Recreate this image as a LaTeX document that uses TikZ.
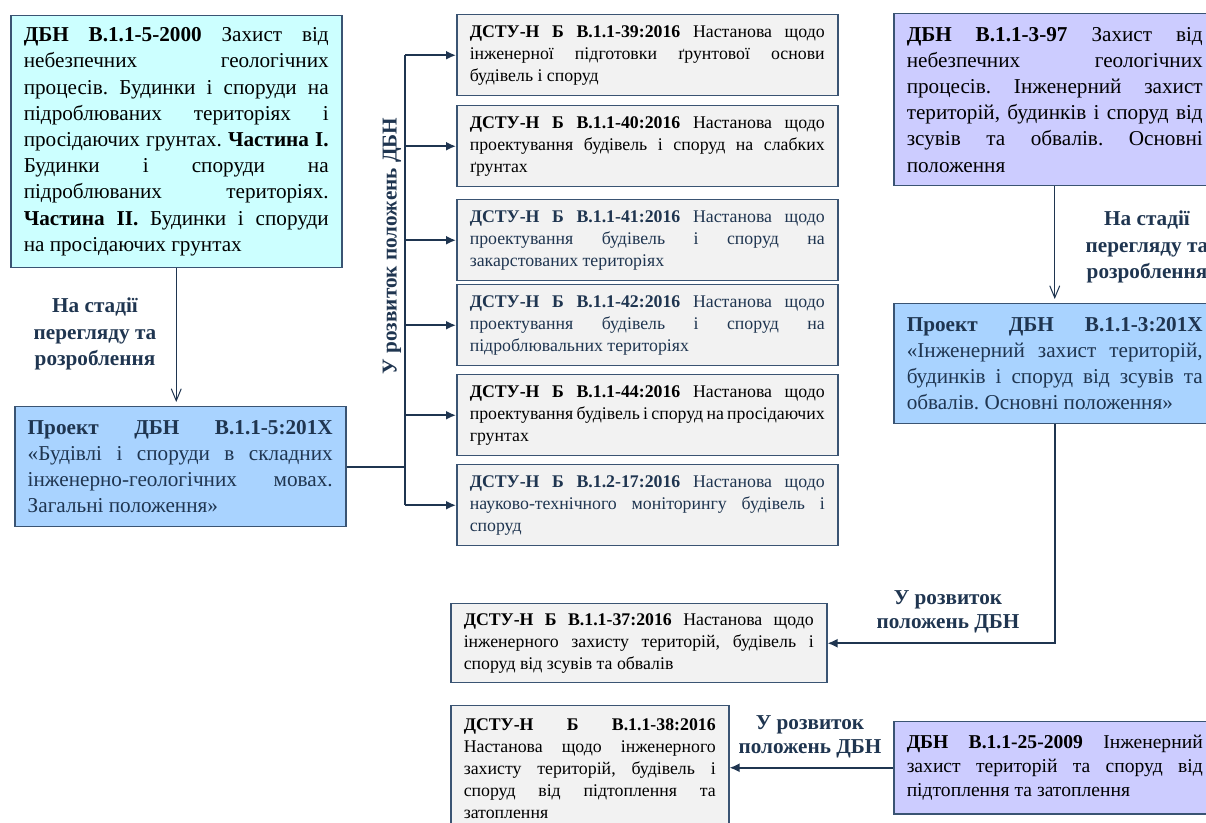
\documentclass[tikz,border=0pt]{standalone}
\usepackage{fontspec}
\setmainfont{Liberation Serif}
\usetikzlibrary{arrows.meta}

\definecolor{framecol}{HTML}{3A5473}
\definecolor{navy}{HTML}{1F3550}
\definecolor{fillcyan}{HTML}{CCFFFF}
\definecolor{fillblue}{HTML}{A9D3FF}
\definecolor{filllav}{HTML}{CCCCFF}
\definecolor{fillgray}{HTML}{F2F2F2}

% word-like lines: breaks are set by hand
\newcommand{\wordlines}{\frenchspacing\tolerance=10000\hyphenpenalty=10000\spaceskip=.25em plus .6em minus .1em\relax}
\newcommand{\sizeMain}{\fontsize{10.6}{13.1}\selectfont\wordlines}
\newcommand{\sizeDstu}{\fontsize{8.9}{11}\selectfont\wordlines}
\newcommand{\sizeNote}{\fontsize{10.6}{12}\selectfont}

\tikzstyle{block} = [rectangle, draw=framecol, line width=0.75pt,
		align=justify, anchor=north west, inner xsep=6.5pt, inner ysep=3pt]
\tikzstyle{dbn} = [block, font=\sizeMain, text width=152.5pt]
\tikzstyle{dstu} = [block, fill=fillgray, font=\sizeDstu, text width=177.5pt, minimum height=40.5pt]
\tikzstyle{stage} = [font=\sizeMain\bfseries, text=navy, align=center]
\tikzstyle{branch} = [draw=navy, line width=0.9pt, -{Latex[length=5pt,width=4.5pt]}]
\tikzstyle{review} = [draw=navy, line width=0.5pt, shorten >=2pt, -{Straight Barb[length=6pt,width=5pt]}]

\begin{document}
\begin{tikzpicture}[x=0.5pt, y=-0.5pt]
		\clip (0,0) rectangle (1206,823);
		%left column
		\node [dbn, fill=fillcyan, minimum height=126pt] (Dbn5) at (10,15) {\textbf{ДБН В.1.1-5-2000} Захист від\linebreak небезпечних геологічних\linebreak процесів. Будинки і споруди на\linebreak підроблюваних територіях і\linebreak просідаючих грунтах. \textbf{Частина I.}\linebreak Будинки і споруди на\linebreak підроблюваних територіях.\linebreak \textbf{Частина II.} Будинки і споруди\linebreak на просідаючих грунтах};
		\node [dbn, fill=fillblue, text=navy, minimum height=60pt] (Proj5) at (14,406) {\textbf{Проект ДБН В.1.1-5:201Х}\linebreak «Будівлі і споруди в складних\linebreak інженерно-геологічних мовах.\linebreak Загальні положення»};
		\node [stage] (lab1) at (95,334) {На стадії\\перегляду та\\розроблення};
		
		%DSTU column
		\node [dstu] (Dstu39) at (456,14) {\textbf{ДСТУ-Н Б В.1.1-39:2016} Настанова щодо\linebreak інженерної підготовки ґрунтової основи\linebreak будівель і споруд};
		\node [dstu] (Dstu40) at (456,105) {\textbf{ДСТУ-Н Б В.1.1-40:2016} Настанова щодо\linebreak проектування будівель і споруд на слабких\linebreak ґрунтах};
		\node [dstu, text=navy] (Dstu41) at (456,199) {\textbf{ДСТУ-Н Б В.1.1-41:2016} Настанова щодо\linebreak проектування будівель і споруд на\linebreak закарстованих територіях};
		\node [dstu, text=navy] (Dstu42) at (456,284) {\textbf{ДСТУ-Н Б В.1.1-42:2016} Настанова щодо\linebreak проектування будівель і споруд на\linebreak підроблювальних територіях};
		\node [dstu] (Dstu44) at (456,374) {\textbf{ДСТУ-Н Б В.1.1-44:2016} Настанова щодо\linebreak проектування будівель і споруд на просідаючих\linebreak грунтах};
		\node [dstu, text=navy] (Dstu17) at (456,464) {\textbf{ДСТУ-Н Б В.1.2-17:2016} Настанова щодо\linebreak науково-технічного моніторингу будівель і\linebreak споруд};
		\coordinate (trunk) at (405,0);
		\node [stage, rotate=90] (lab2) at (392,246) {У розвиток положень ДБН};
		
		%right column
		\node [dbn, fill=filllav, text width=148pt, minimum height=86pt] (Dbn3) at (893,13) {\textbf{ДБН В.1.1-3-97} Захист від\linebreak небезпечних геологічних\linebreak процесів. Інженерний захист\linebreak територій, будинків і споруд від\linebreak зсувів та обвалів. Основні\linebreak положення};
		\node [dbn, fill=fillblue, text=navy, text width=148pt, minimum height=60pt] (Proj3) at (893,303) {\textbf{Проект ДБН В.1.1-3:201Х}\linebreak «Інженерний захист територій,\linebreak будинків і споруд від зсувів та\linebreak обвалів. Основні положення»};
		\node [stage] (lab3) at (1147,247) {На стадії\\перегляду та\\розроблення};
		
		%bottom rows
		\node [dstu, text width=175pt, minimum height=39.5pt] (Dstu37) at (450,603) {\textbf{ДСТУ-Н Б В.1.1-37:2016} Настанова щодо\linebreak інженерного захисту територій, будівель і\linebreak споруд від зсувів та обвалів};
		\node [dstu, text width=126pt, minimum height=63pt] (Dstu38) at (450,705) {\textbf{ДСТУ-Н Б В.1.1-38:2016}\linebreak Настанова щодо інженерного\linebreak захисту територій, будівель і\linebreak споруд від підтоплення та\linebreak затоплення};
		\node [block, fill=filllav, font=\fontsize{9.8}{11.8}\selectfont\wordlines, text width=148pt, minimum height=46pt] (Dbn25) at (893,721) {\textbf{ДБН В.1.1-25-2009} Інженерний\linebreak захист територій та споруд від\linebreak підтоплення та затоплення};
		\node [stage, font=\sizeNote\bfseries] (lab4) at (948,612) {У розвиток\\положень ДБН};
		\node [stage, font=\sizeNote\bfseries] (lab5) at (810,737) {У розвиток\\положень ДБН};
		
		%arrows
		\draw[review] (Dbn5.south) -- (Dbn5.south |- Proj5.north);
		\draw[review] (Dbn3.south) -- (Proj3.north);
		\draw[draw=navy, line width=0.9pt] (Proj5.east) -- (trunk |- Proj5.east);
		\draw[draw=navy, line width=0.9pt] (trunk |- Dstu39.west) -- (trunk |- Dstu17.west);
		\draw[branch] (trunk |- Dstu39.west) -- (Dstu39.west);
		\draw[branch] (trunk |- Dstu40.west) -- (Dstu40.west);
		\draw[branch] (trunk |- Dstu41.west) -- (Dstu41.west);
		\draw[branch] (trunk |- Dstu42.west) -- (Dstu42.west);
		\draw[branch] (trunk |- Dstu44.west) -- (Dstu44.west);
		\draw[branch] (trunk |- Dstu17.west) -- (Dstu17.west);
		\draw[branch] (Proj3.south) |- (Dstu37.east);
		\draw[branch] (Dbn25.west) -- (Dbn25.west -| Dstu38.east);
		
\end{tikzpicture}
\end{document}
